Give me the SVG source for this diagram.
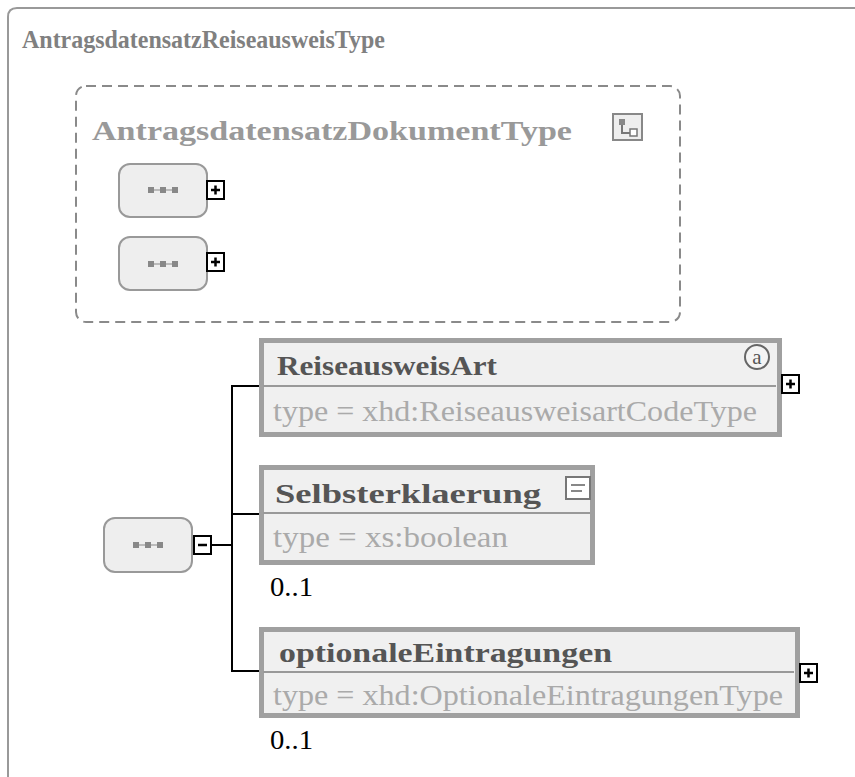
<svg xmlns="http://www.w3.org/2000/svg" width="855" height="777" viewBox="0 0 855 777">
<style>
.t{font-family:"Liberation Serif","Times New Roman",serif}
.b{font-weight:bold}
.seq{fill:#eeeeee;stroke:#999999;stroke-width:2}
.sq{fill:#888888}
.el{fill:#f0f0f0;stroke:#a0a0a0;stroke-width:5}
.sep{stroke:#999999;stroke-width:2}
.btn{fill:#ffffff;stroke:#000000;stroke-width:2}
.pm{stroke:#000000;stroke-width:2.5}
.con{stroke:#000000;stroke-width:2;fill:none}
</style>
<defs>
<g id="seqicon">
<rect class="sq" x="-15" y="-3" width="6" height="6"/>
<rect class="sq" x="-3" y="-3" width="6" height="6"/>
<rect class="sq" x="9" y="-3" width="6" height="6"/>
<line x1="-9" y1="0" x2="-3" y2="0" stroke="#999" stroke-width="1.2"/>
<line x1="3" y1="0" x2="9" y2="0" stroke="#999" stroke-width="1.2"/>
</g>
<g id="plus">
<rect class="btn" x="0" y="0" width="17" height="18"/>
<line class="pm" x1="4" y1="9" x2="13" y2="9"/>
<line class="pm" x1="8.5" y1="4.5" x2="8.5" y2="13.5"/>
</g>
</defs>
<rect width="855" height="777" fill="#ffffff"/>
<g id="frame">
<path d="M8,777 V17 Q8,8 17,8 H855" fill="none" stroke="#999999" stroke-width="2"/>
<text class="t b" x="22" y="48" font-size="26" fill="#808080" textLength="363" lengthAdjust="spacingAndGlyphs">AntragsdatensatzReiseausweisType</text>
</g>
<g id="base">
<rect x="76" y="86" width="604" height="236" rx="10" fill="none" stroke="#8a8a8a" stroke-width="2" stroke-dasharray="10,6"/>
<text class="t b" x="92" y="140" font-size="27" fill="#999999" textLength="480" lengthAdjust="spacingAndGlyphs">AntragsdatensatzDokumentType</text>
<rect x="613" y="114" width="29" height="26" fill="#eeeeee" stroke="#888888" stroke-width="2"/>
<rect x="619" y="119" width="6" height="6" fill="#888888"/>
<path d="M622,125 V133 H630" fill="none" stroke="#777777" stroke-width="2"/>
<rect x="630" y="129" width="7" height="7" fill="#ffffff" stroke="#777777" stroke-width="1.5"/>
</g>
<g id="seq1">
<rect class="seq" x="119" y="164" width="88" height="53" rx="11"/>
<use href="#seqicon" x="163" y="190"/>
<use href="#plus" x="207" y="181"/>
</g>
<g id="seq2">
<rect class="seq" x="119" y="237" width="88" height="53" rx="11"/>
<use href="#seqicon" x="163" y="264"/>
<use href="#plus" x="207" y="253"/>
</g>
<g id="connectors">
<line class="con" x1="211" y1="545" x2="232" y2="545"/>
<line class="con" x1="232" y1="385" x2="232" y2="672"/>
<line class="con" x1="231" y1="386" x2="260" y2="386"/>
<line class="con" x1="231" y1="514" x2="260" y2="514"/>
<line class="con" x1="231" y1="671" x2="260" y2="671"/>
</g>
<g id="seqmain">
<rect class="seq" x="104" y="518" width="88" height="54" rx="11"/>
<use href="#seqicon" x="148" y="545"/>
<rect class="btn" x="194" y="536" width="17" height="18"/>
<line class="pm" x1="198" y1="545" x2="207" y2="545"/>
</g>
<g id="ReiseausweisArt">
<rect class="el" x="261.5" y="340.5" width="518" height="94"/>
<line class="sep" x1="263" y1="386" x2="776" y2="386"/>
<text class="t b" x="277" y="375" font-size="28" fill="#555555" textLength="220" lengthAdjust="spacingAndGlyphs">ReiseausweisArt</text>
<circle cx="757" cy="357" r="12" fill="#f4f4f4" stroke="#666666" stroke-width="2"/>
<text class="t" x="757" y="364" font-size="21" fill="#555555" text-anchor="middle">a</text>
<text class="t" x="273" y="421" font-size="29" fill="#aaaaaa" textLength="484" lengthAdjust="spacingAndGlyphs">type = xhd:ReiseausweisartCodeType</text>
<use href="#plus" x="782" y="375"/>
</g>
<g id="Selbsterklaerung">
<rect class="el" x="261.5" y="467.5" width="331" height="95"/>
<line class="sep" x1="263" y1="513" x2="590" y2="513"/>
<text class="t b" x="275" y="503" font-size="28" fill="#555555" textLength="266" lengthAdjust="spacingAndGlyphs">Selbsterklaerung</text>
<rect x="566" y="477" width="24" height="22" fill="#ffffff" stroke="#777777" stroke-width="2"/>
<line x1="571" y1="485" x2="585" y2="485" stroke="#888888" stroke-width="2"/>
<line x1="571" y1="491" x2="582" y2="491" stroke="#888888" stroke-width="2"/>
<text class="t" x="273" y="547" font-size="29" fill="#aaaaaa" textLength="235" lengthAdjust="spacingAndGlyphs">type = xs:boolean</text>
<text class="t" x="270" y="596" font-size="28" fill="#000000" textLength="43" lengthAdjust="spacingAndGlyphs">0..1</text>
</g>
<g id="optionaleEintragungen">
<rect class="el" x="261.5" y="629.5" width="536" height="86"/>
<line class="sep" x1="263" y1="672" x2="794" y2="672"/>
<text class="t b" x="279" y="662" font-size="28" fill="#555555" textLength="333" lengthAdjust="spacingAndGlyphs">optionaleEintragungen</text>
<text class="t" x="273" y="705" font-size="29" fill="#aaaaaa" textLength="510" lengthAdjust="spacingAndGlyphs">type = xhd:OptionaleEintragungenType</text>
<use href="#plus" x="800" y="664"/>
<text class="t" x="270" y="749" font-size="28" fill="#000000" textLength="43" lengthAdjust="spacingAndGlyphs">0..1</text>
</g>
</svg>
